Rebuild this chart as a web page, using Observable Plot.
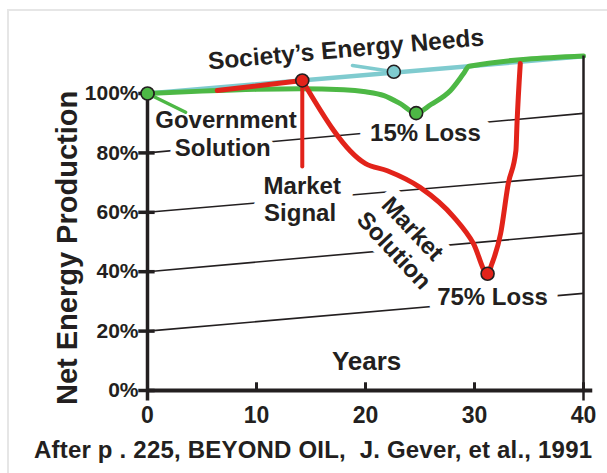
<!DOCTYPE html>
<html><head><meta charset="utf-8">
<script src="https://cdn.jsdelivr.net/npm/d3@7"></script>
<script src="https://cdn.jsdelivr.net/npm/@observablehq/plot@0.6"></script>
<style>
body{margin:0;background:#fff;width:607px;height:473px;overflow:hidden;position:relative;font-family:"Liberation Sans",Arial,sans-serif;}
#frame{position:absolute;left:7px;top:9px;width:640px;height:520px;border:2px solid #e6e6e6;}
#chart{position:absolute;left:0;top:0;}
#caption{position:absolute;left:34px;top:436px;font-weight:bold;font-size:24px;color:#231f20;white-space:pre;letter-spacing:0.2px;}
</style></head><body>
<div id="frame"></div>
<div id="chart"></div>
<div id="caption"></div>
<script>
// ---- data ----
const yearTicks = [0, 10, 20, 30, 40];
const pctTicks = [0, 20, 40, 60, 80, 100];
const pctLabels = ["0%", "20%", "40%", "60%", "80%", "100%"];
const guideStart = [20, 40, 60, 80];
const guideEnd = [32.7, 53, 72.5, 93.3];
const needsYears = [0, 40];
const needsValues = [100, 112.5];
const govYears = [0, 5, 10, 14, 18, 20, 21.7, 23.2, 24.65, 26, 27.8, 29, 29.5, 40];
const govValues = [100, 100.8, 101.4, 101.6, 101.3, 100.6, 99.3, 96.6, 93.4, 96.3, 101, 106.7, 109.2, 112.6];
const signalYears = [6.4, 14.2];
const signalValues = [101, 104.4];
const marketYears = [14.2, 20, 22, 25, 28.1, 29.9, 31.2, 31.6, 32.4, 33.1, 33.8, 33.9, 34.2];
const marketValues = [104.4, 76.4, 74, 68.4, 58.4, 49.5, 39.3, 42.7, 52.9, 69.7, 80.8, 89.9, 110.1];
const signalDropYears = [14.2, 14.2];
const signalDropValues = [104.4, 75.4];
const pointYears = [0, 14.2, 22.6, 24.65, 31.2];
const pointValues = [100, 104.4, 107.3, 93.4, 39.3];
const pointKinds = ["gov", "market", "needs", "gov", "market"];
const labelTexts = ["Government", "Solution", "15% Loss", "Market", "Signal", "75% Loss"];
const labelYears = [7.2, 6.9, 25.5, 14.2, 14.0, 31.65];
const labelValues = [90.9, 81.5, 86.5, 68.7, 59.6, 31.3];
const xAxisTitle = "Years";
const xAxisTitlePos = [20.1, 9.6];
const needsLabel = "Society\u2019s Energy Needs";
const needsLabelPos = [18.2, 114.8];
const marketSolLabels = ["Market", "Solution"];
const marketSolYears = [24.3, 22.6];
const marketSolValues = [54.4, 47.1];
const needsLeaderYears = [18.8, 22.6];
const needsLeaderValues = [109.4, 107.3];
const govLeaderYears = [0, 3.5];
const govLeaderValues = [100, 93.7];
const yAxisTitle = "Net Energy Production";
const yAxisTitlePos = [0, 48];
const captionText = "After p . 225, BEYOND OIL,  J. Gever, et al., 1991";

// ---- styles ----
const GREEN = "#4db845", RED = "#e2231a", CYAN = "#7fcbcf", INK = "#231f20";
const FONT = "Liberation Sans, Arial, sans-serif";
const halo = {"Government": 10, "Solution": 10, "15% Loss": 24, "Market": 24, "Signal": 24, "75% Loss": 22};

const toPts = (xs, ys) => xs.map((x, i) => ({x, y: ys[i]}));
const guides = guideStart.map((s, i) => ({x1: 0, y1: s, x2: 40, y2: guideEnd[i]}));
const labels = labelTexts.map((t, i) => ({t, x: labelYears[i], y: labelValues[i]}));
const msl = marketSolLabels.map((t, i) => ({t, x: marketSolYears[i], y: marketSolValues[i]}));
const points = pointYears.map((x, i) => ({x, y: pointValues[i], k: pointKinds[i]}));
const colorOf = {gov: GREEN, market: RED, needs: CYAN};
const lblStyle = {x: "x", y: "y", text: "t", fontSize: 24, fontWeight: "bold"};

const chart = Plot.plot({
  width: 607, height: 430,
  marginLeft: 147, marginRight: 24, marginTop: 48.45, marginBottom: 40,
  x: {domain: [0, 40], axis: null},
  y: {domain: [0, 115], axis: null},
  style: {fontFamily: FONT, background: "transparent", overflow: "visible"},
  marks: [
    Plot.link(guides, {x1: "x1", y1: "y1", x2: "x2", y2: "y2", stroke: INK, strokeWidth: 1.6}),
    Plot.line(toPts(needsYears, needsValues), {x: "x", y: "y", stroke: CYAN, strokeWidth: 4.5}),
    // white halos first, then the label text itself
    Plot.text(labels, {...lblStyle, fill: "white", stroke: "white", strokeWidth: d => halo[d.t]}),
    Plot.text(msl, {...lblStyle, fill: "white", stroke: "white", strokeWidth: 16, rotate: 47}),
    Plot.text(labels, {...lblStyle, fill: INK}),
    Plot.text(msl, {...lblStyle, fill: INK, rotate: 47}),
    Plot.text([{x: xAxisTitlePos[0], y: xAxisTitlePos[1]}], {x: "x", y: "y", text: () => xAxisTitle, fontSize: 26, fontWeight: "bold", fill: INK}),
    Plot.text([{x: needsLabelPos[0], y: needsLabelPos[1]}], {x: "x", y: "y", text: () => needsLabel, fontSize: 24.5, fontWeight: "bold", fill: INK, rotate: -5}),
    Plot.line(toPts(needsLeaderYears, needsLeaderValues), {x: "x", y: "y", stroke: CYAN, strokeWidth: 3.5}),
    Plot.line(toPts(govLeaderYears, govLeaderValues), {x: "x", y: "y", stroke: GREEN, strokeWidth: 3.5}),
    Plot.line(toPts(govYears, govValues), {x: "x", y: "y", stroke: GREEN, strokeWidth: 5, curve: "monotone-x"}),
    Plot.line(toPts(signalYears, signalValues), {x: "x", y: "y", stroke: RED, strokeWidth: 5}),
    Plot.line(toPts(signalDropYears, signalDropValues), {x: "x", y: "y", stroke: RED, strokeWidth: 4}),
    Plot.line(toPts(marketYears, marketValues), {x: "x", y: "y", stroke: RED, strokeWidth: 5, curve: "monotone-x"}),
    // axes
    Plot.ruleX([0], {y1: -3.5, y2: 100, stroke: INK, strokeWidth: 3.5}),
    Plot.ruleY([0], {x1: 0, x2: 40.85, stroke: INK, strokeWidth: 4}),
    Plot.ruleX([40], {y1: -3.5, y2: 112.6, stroke: INK, strokeWidth: 2.5}),
    Plot.ruleY(pctTicks, {x1: -0.8, x2: 0.7, stroke: INK, strokeWidth: 3.5}),
    Plot.ruleX(yearTicks, {y1: 0, y2: 2.6, stroke: INK, strokeWidth: 3}),
    Plot.text(pctTicks, {x: 0, y: d => d, text: (d, i) => pctLabels[i], textAnchor: "end", dx: -9, fontSize: 21, fontWeight: "bold", fill: INK}),
    Plot.text(yearTicks, {x: d => d, y: 0, text: d => String(d), dy: 25, fontSize: 23, fontWeight: "bold", fill: INK}),
    Plot.text([{x: yAxisTitlePos[0], y: yAxisTitlePos[1]}], {x: "x", y: "y", text: () => yAxisTitle, rotate: -90, dx: -80, fontSize: 29, fontWeight: "bold", fill: INK}),
    Plot.dot(points, {x: "x", y: "y", r: 6.5, fill: d => colorOf[d.k], stroke: INK, strokeWidth: 1.6})
  ]
});
document.getElementById("chart").appendChild(chart);
document.getElementById("caption").textContent = captionText;
</script>
</body></html>
